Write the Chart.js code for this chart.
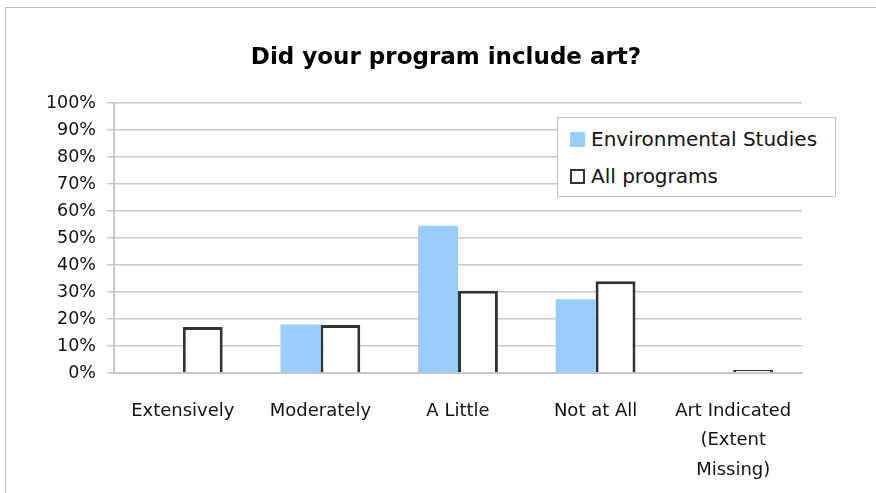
<!DOCTYPE html>
<html>
<head>
<meta charset="utf-8">
<script src="https://cdn.jsdelivr.net/npm/chart.js@4.4.1/dist/chart.umd.min.js"></script>
<style>
    body { margin: 0; background: #fff; overflow: hidden; }
    #wrap { position: relative; width: 876px; height: 493px; }
    #frame { position: absolute; left: 5px; top: 7px; width: 900px; height: 600px; border: 1px solid #bfbfbf; }
    #legend { position: absolute; left: 557px; top: 117px; width: 277px; height: 78px; border: 1px solid #bfbfbf; background: #fff;
        font-family: "DejaVu Sans", sans-serif; font-size: 20px; color: #111; }
    #legend div { position: absolute; left: 12px; display: flex; align-items: center; line-height: 24px; }
    #legend span.sw { display: inline-block; width: 15px; height: 15px; margin-right: 6px; box-sizing: border-box; }
</style>
</head>
<body>
<div id="wrap">
    <div id="frame"></div>
    <canvas id="myChart" width="876" height="493"></canvas>
    <div id="legend"></div>
</div>
<script>
let title = "Did your program include art?";
let categories = ["Extensively", "Moderately", "A Little", "Not at All", ["Art Indicated", "(Extent", "Missing)"]];
let envStudies = [0, 18, 54.5, 27.3, 0];
let allPrograms = [17, 17.8, 30.5, 34, 1.1];
let yTicks = [0, 10, 20, 30, 40, 50, 60, 70, 80, 90, 100];

// title is centred on the whole picture, not on the plot
let titlePlugin = {
    id: 'centerTitle',
    afterDraw(chart) {
        let c = chart.ctx;
        c.save();
        c.font = "bold 23px 'DejaVu Sans'";
        c.fillStyle = "#000";
        c.textAlign = "center";
        c.textBaseline = "middle";
        c.fillText(title, 446, 58);
        c.restore();
    }
};

function drawChart(ctx) {
    let chart = new Chart(ctx, {
        type: 'bar',
        data: {
            labels: categories,
            datasets: [{
                label: "Environmental Studies",
                data: envStudies,
                backgroundColor: "#99ccff",
                borderWidth: 0
            }, {
                label: "All programs",
                data: allPrograms,
                backgroundColor: "#ffffff",
                borderColor: "#333333",
                borderWidth: 3
            }]
        },
        options: {
            responsive: false,
            animation: false,
            layout: { padding: { left: 0, right: 74, top: 103, bottom: 0 } },
            categoryPercentage: 0.58,
            barPercentage: 1,
            plugins: {
                legend: { display: false },
                tooltip: { enabled: false },
                title: { display: false }
            },
            scales: {
                x: {
                    grid: { display: false, drawTicks: false },
                    border: { color: "#c8c8c8", width: 2 },
                    ticks: {
                        color: "#111",
                        padding: 24,
                        maxRotation: 0,
                        autoSkip: false,
                        font: { family: "DejaVu Sans", size: 18, lineHeight: 1.62 }
                    },
                    afterFit: s => { s.height = 120; }
                },
                y: {
                    min: 0,
                    max: 100,
                    afterBuildTicks: s => { s.ticks = yTicks.map(v => ({ value: v })); },
                    grid: { color: "#c8c8c8", tickLength: 7, lineWidth: 1.5 },
                    border: { color: "#c8c8c8", width: 2 },
                    ticks: {
                        color: "#111",
                        padding: 11,
                        font: { family: "DejaVu Sans", size: 17.5 },
                        callback: v => v + "%"
                    },
                    afterFit: s => { s.width = 114; }
                }
            }
        },
        plugins: [titlePlugin]
    });
    return chart;
}

let chart = drawChart(document.getElementById("myChart"));

// legend sits over the plot like in the original
let lg = document.getElementById("legend");
chart.data.datasets.forEach((ds, i) => {
    let d = document.createElement("div");
    d.style.top = (i === 0 ? 9 : 46) + "px";
    let sw = document.createElement("span");
    sw.className = "sw";
    sw.style.background = ds.backgroundColor;
    if (ds.borderWidth)
        sw.style.border = "2px solid " + ds.borderColor;
    d.appendChild(sw);
    d.appendChild(document.createTextNode(ds.label));
    lg.appendChild(d);
});
</script>
</body>
</html>
